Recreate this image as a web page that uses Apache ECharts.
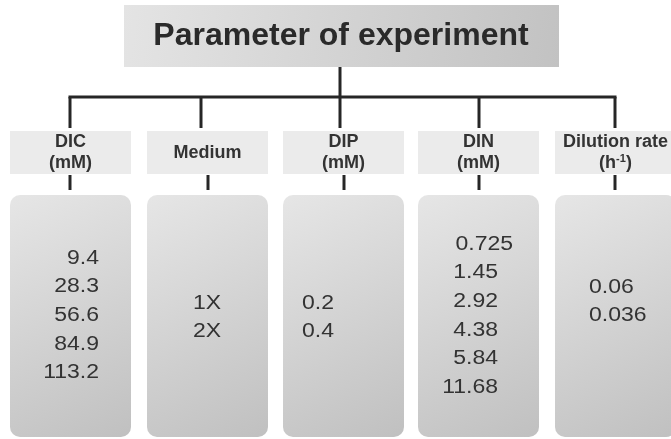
<!DOCTYPE html>
<html>
<head>
<meta charset="utf-8">
<script src="https://cdn.jsdelivr.net/npm/echarts@6/dist/echarts.min.js"></script>
<style>
html,body{margin:0;padding:0;background:#fff;}
#main{width:671px;height:439px;}
</style>
</head>
<body>
<div id="main"></div>
<script>
// ---- data ----
const titleText = 'Parameter of experiment';
const categories = ['DIC\n(mM)', 'Medium', 'DIP\n(mM)', 'DIN\n(mM)', 'Dilution rate\n(h{sup|-1}{b|)}'];
const dicValues = ['9.4', '28.3', '56.6', '84.9', '113.2'];
const mediumValues = ['1X', '2X'];
const dipValues = ['0.2', '0.4'];
const dinValues = ['0.725', '1.45', '2.92', '4.38', '5.84', '11.68'];
const dilutionValues = ['0.06', '0.036'];
const columnValues = [dicValues, mediumValues, dipValues, dinValues, dilutionValues];

// ---- layout ----
const colLeft = [10, 147, 283, 418, 555];
const colW = 121;
const dropX = [70, 201, 340, 479, 615];
const smallDropX = [70, 208, 344, 479, 615];
const textLayout = [
  {x: 99, align: 'right', y0: 258},
  {x: 207, align: 'center', y0: 303},
  {x: 302, align: 'left', y0: 303},
  {x: 498, align: 'right', y0: 244, firstDx: 15},
  {x: 589, align: 'left', y0: 287}
];
const lineGap = 28.7;
const lineColor = '#262626';

const g = [];
// title box
g.push({
  type: 'rect', shape: {x: 124, y: 5, width: 435, height: 62},
  style: {fill: new echarts.graphic.LinearGradient(0, 0, 1, 1, [
    {offset: 0, color: '#e4e4e4'}, {offset: 1, color: '#c2c2c2'}])}
});
g.push({
  type: 'text', x: 341, y: 36,
  style: {text: titleText, font: 'bold 32px "Liberation Sans", Arial, sans-serif',
    fill: '#2a2a2a', align: 'center', verticalAlign: 'middle'}
});
// connectors
const lw = 3;
g.push({type: 'line', shape: {x1: 340, y1: 67, x2: 340, y2: 97}, style: {stroke: lineColor, lineWidth: lw}});
g.push({type: 'line', shape: {x1: dropX[0] - 1.5, y1: 97, x2: dropX[4] + 1.5, y2: 97}, style: {stroke: lineColor, lineWidth: lw}});
dropX.forEach(function (x) {
  g.push({type: 'line', shape: {x1: x, y1: 97, x2: x, y2: 128}, style: {stroke: lineColor, lineWidth: lw}});
});
smallDropX.forEach(function (x) {
  g.push({type: 'line', shape: {x1: x, y1: 175, x2: x, y2: 190}, style: {stroke: lineColor, lineWidth: lw}});
});
// header boxes
categories.forEach(function (c, i) {
  g.push({type: 'rect', shape: {x: colLeft[i], y: 131, width: colW, height: 43}, style: {fill: '#ebebeb'}});
  g.push({
    type: 'text', x: colLeft[i] + colW / 2, y: 153,
    style: {
      text: c, font: 'bold 18px "Liberation Sans", Arial, sans-serif', fill: '#333333',
      align: 'center', verticalAlign: 'middle', lineHeight: 21,
      rich: {
        sup: {font: 'bold 11px "Liberation Sans", Arial, sans-serif', fill: '#333333', verticalAlign: 'top', lineHeight: 21, padding: [0, 0, 11, 0]},
        b: {font: 'bold 18px "Liberation Sans", Arial, sans-serif', fill: '#333333', lineHeight: 21}
      }
    }
  });
});
// value boxes
columnValues.forEach(function (vals, i) {
  g.push({
    type: 'rect', shape: {x: colLeft[i], y: 195, width: colW, height: 242, r: 10},
    style: {fill: new echarts.graphic.LinearGradient(0, 0, 1, 1, [
      {offset: 0, color: '#e6e6e6'}, {offset: 1, color: '#c0c0c0'}])}
  });
  const L = textLayout[i];
  vals.forEach(function (v, k) {
    g.push({
      type: 'text', x: L.x + (k === 0 && L.firstDx ? L.firstDx : 0), y: L.y0 + k * lineGap,
      scaleX: 1.15,
      style: {text: v, font: '20px "Liberation Sans", Arial, sans-serif', fill: '#333333',
        align: L.align, verticalAlign: 'middle'}
    });
  });
});

const chart = echarts.init(document.getElementById('main'), null, {renderer: 'canvas'});
chart.setOption({animation: false, backgroundColor: '#ffffff', graphic: g});
</script>
</body>
</html>
